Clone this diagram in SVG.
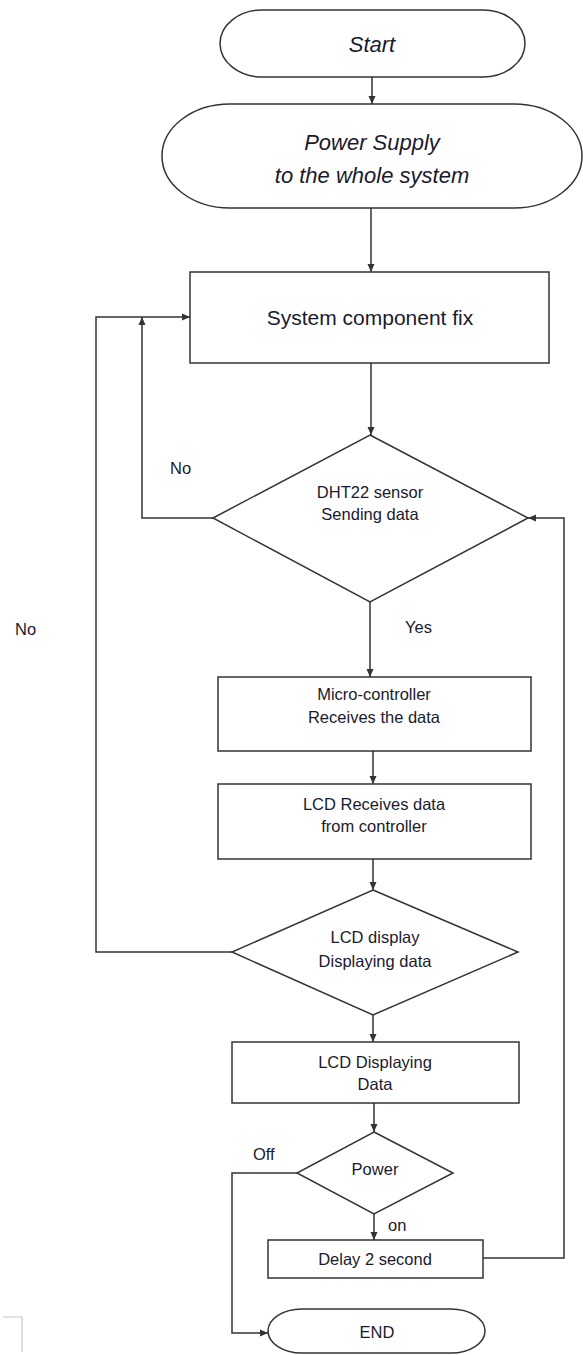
<svg xmlns="http://www.w3.org/2000/svg" width="583" height="1355" viewBox="0 0 583 1355">
<style>
.shape{fill:#fff;stroke:#333;stroke-width:1.5}
.conn{fill:none;stroke:#333;stroke-width:1.5}
.t{font-family:"Liberation Sans",Arial,sans-serif;fill:#1a1a2e;text-anchor:middle}
.big{font-size:21px}
.it{font-style:italic;font-size:22px}
.sm{font-size:16.5px}
.lbl{font-family:"Liberation Sans",Arial,sans-serif;fill:#1a1a2e;font-size:16.5px}
</style>
<defs>
<marker id="ah" markerWidth="8" markerHeight="8" refX="8" refY="4" orient="auto" markerUnits="userSpaceOnUse">
<path d="M0,0.5 L8,4 L0,7.5 z" fill="#333"/>
</marker>
</defs>
<rect width="583" height="1355" fill="#fff"/>
<g id="connectors">
<line class="conn" x1="372" y1="77" x2="372" y2="104" marker-end="url(#ah)"/>
<line class="conn" x1="371" y1="208" x2="371" y2="272" marker-end="url(#ah)"/>
<line class="conn" x1="371" y1="363" x2="371" y2="435" marker-end="url(#ah)"/>
<polyline class="conn" points="213,518 142,518 142,317" marker-end="url(#ah)"/>
<line class="conn" x1="370" y1="602" x2="370" y2="677" marker-end="url(#ah)"/>
<line class="conn" x1="373" y1="751" x2="373" y2="784" marker-end="url(#ah)"/>
<line class="conn" x1="373" y1="859" x2="373" y2="890" marker-end="url(#ah)"/>
<polyline class="conn" points="232,952 96,952 96,317 190,317" marker-end="url(#ah)"/>
<line class="conn" x1="373" y1="1015" x2="373" y2="1042" marker-end="url(#ah)"/>
<line class="conn" x1="374" y1="1103" x2="374" y2="1132" marker-end="url(#ah)"/>
<line class="conn" x1="374" y1="1214" x2="374" y2="1240" marker-end="url(#ah)"/>
<polyline class="conn" points="297,1173 232,1173 232,1333 268,1333" marker-end="url(#ah)"/>
<polyline class="conn" points="483,1258 564,1258 564,518 528,518" marker-end="url(#ah)"/>
</g>
<g id="start">
<rect class="shape" x="220" y="10" width="305" height="67" rx="42" ry="33.5"/>
<text class="t it" x="372" y="52">Start</text>
</g>
<g id="power-supply">
<rect class="shape" x="162" y="104" width="420" height="104" rx="68" ry="52"/>
<text class="t it" x="372" y="150">Power Supply</text>
<text class="t it" x="372" y="183">to the whole system</text>
</g>
<g id="system-fix">
<rect class="shape" x="190" y="272" width="359" height="91"/>
<text class="t big" x="370" y="325">System component fix</text>
</g>
<g id="dht22">
<polygon class="shape" points="370,435 528,518 370,602 213,518"/>
<text class="t sm" x="370" y="498">DHT22 sensor</text>
<text class="t sm" x="370" y="520">Sending data</text>
</g>
<g id="micro">
<rect class="shape" x="218" y="677" width="313" height="74"/>
<text class="t sm" x="374" y="700">Micro-controller</text>
<text class="t sm" x="374" y="723">Receives the data</text>
</g>
<g id="lcd-receive">
<rect class="shape" x="218" y="784" width="313" height="75"/>
<text class="t sm" x="374" y="810">LCD Receives data</text>
<text class="t sm" x="374" y="832">from controller</text>
</g>
<g id="lcd-display">
<polygon class="shape" points="373,890 518,952 373,1015 232,952"/>
<text class="t sm" x="375" y="943">LCD display</text>
<text class="t sm" x="375" y="967">Displaying data</text>
</g>
<g id="lcd-displaying">
<rect class="shape" x="232" y="1042" width="287" height="61"/>
<text class="t sm" x="375" y="1068">LCD Displaying</text>
<text class="t sm" x="375" y="1090">Data</text>
</g>
<g id="power">
<polygon class="shape" points="374,1132 453,1173 374,1214 297,1173"/>
<text class="t sm" x="375" y="1175">Power</text>
</g>
<g id="delay">
<rect class="shape" x="268" y="1240" width="215" height="38"/>
<text class="t sm" x="375" y="1265">Delay 2 second</text>
</g>
<g id="end">
<rect class="shape" x="268" y="1309" width="217" height="44" rx="34" ry="22"/>
<text class="t sm" x="377" y="1338">END</text>
</g>
<g id="labels">
<text class="lbl" x="170" y="474">No</text>
<text class="lbl" x="405" y="633">Yes</text>
<text class="lbl" x="15" y="635">No</text>
<text class="lbl" x="253" y="1160">Off</text>
<text class="lbl" x="388" y="1231">on</text>
</g>
<polyline points="3,1317 22,1317 22,1352" fill="none" stroke="#c8c8c8" stroke-width="1.2"/>
</svg>
